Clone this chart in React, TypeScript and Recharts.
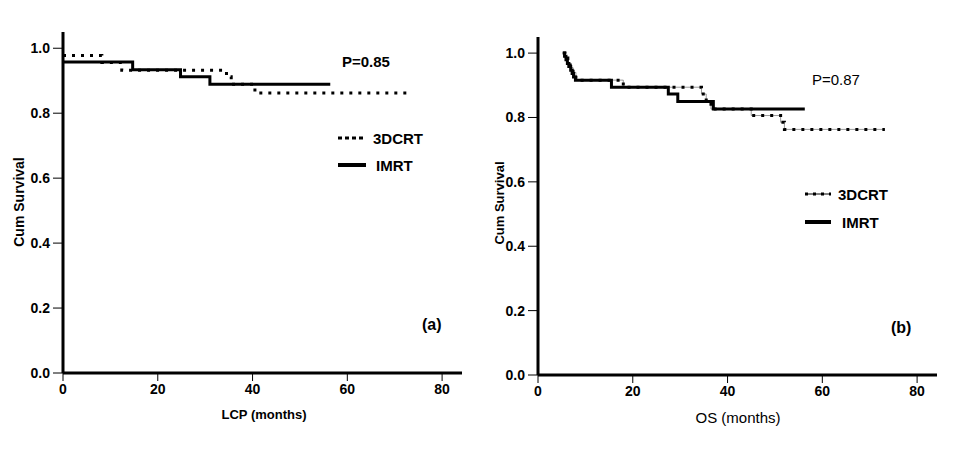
import { LineChart, Line, XAxis, YAxis } from 'recharts';

// (a) local control (LCP), Kaplan-Meier steps
const lcp3dcrt = [
  { t: 0, s: 0.978 },
  { t: 8.2, s: 0.956 },
  { t: 12.4, s: 0.932 },
  { t: 34.5, s: 0.912 },
  { t: 35.5, s: 0.889 },
  { t: 40.5, s: 0.862 },
  { t: 73.6, s: 0.862 },
];
const lcpImrt = [
  { t: 0, s: 0.958 },
  { t: 14.7, s: 0.934 },
  { t: 24.8, s: 0.912 },
  { t: 31, s: 0.889 },
  { t: 56.4, s: 0.889 },
];

// (b) overall survival (OS)
const os3dcrt = [
  { t: 5.2, s: 1.0 },
  { t: 5.7, s: 0.985 },
  { t: 6.3, s: 0.97 },
  { t: 6.8, s: 0.955 },
  { t: 7.4, s: 0.94 },
  { t: 8, s: 0.916 },
  { t: 18, s: 0.894 },
  { t: 34.5, s: 0.873 },
  { t: 35.5, s: 0.85 },
  { t: 36.5, s: 0.826 },
  { t: 45, s: 0.806 },
  { t: 51.2, s: 0.785 },
  { t: 52, s: 0.763 },
  { t: 73.2, s: 0.763 },
];
const osImrt = [
  { t: 5.3, s: 1.0 },
  { t: 5.6, s: 0.99 },
  { t: 5.9, s: 0.979 },
  { t: 6.2, s: 0.968 },
  { t: 6.5, s: 0.958 },
  { t: 6.9, s: 0.947 },
  { t: 7.2, s: 0.937 },
  { t: 7.5, s: 0.926 },
  { t: 7.9, s: 0.916 },
  { t: 15.5, s: 0.894 },
  { t: 27.5, s: 0.873 },
  { t: 29.5, s: 0.85 },
  { t: 37, s: 0.826 },
  { t: 56.3, s: 0.826 },
];

const xTicks = [0, 20, 40, 60, 80];
const yTicks = [0, 0.2, 0.4, 0.6, 0.8, 1.0];

const FONT = '"Liberation Sans", Arial, sans-serif';
const tickStyle = { fontSize: 14, fontWeight: 'bold', fill: '#000', fontFamily: FONT };

const txt = (x: number, y: number, s: string, size: number, bold = true, extra: any = {}) => (
  <div
    style={{
      position: 'absolute',
      left: x,
      top: y,
      fontFamily: FONT,
      fontSize: size,
      fontWeight: bold ? 'bold' : 'normal',
      color: '#000',
      whiteSpace: 'nowrap',
      lineHeight: 1,
      ...extra,
    }}
  >
    {s}
  </div>
);

const axes = (yWidth: number) => [
  <XAxis
    key="x"
    type="number"
    dataKey="t"
    domain={[0, 84.2]}
    ticks={xTicks}
    allowDataOverflow
    height={30}
    tick={tickStyle}
    tickSize={8}
    tickMargin={3}
    axisLine={{ stroke: '#000', strokeWidth: 3 }}
    tickLine={{ stroke: '#000', strokeWidth: 1 }}
  />,
  <YAxis
    key="y"
    type="number"
    dataKey="s"
    domain={[0, 1.05]}
    ticks={yTicks}
    allowDataOverflow
    width={yWidth}
    tick={tickStyle}
    tickSize={10}
    tickMargin={3}
    tickFormatter={(v: number) => v.toFixed(1)}
    axisLine={{ stroke: '#000', strokeWidth: 3 }}
    tickLine={{ stroke: '#000', strokeWidth: 1 }}
  />,
];

export default function App() {
  return (
    <div style={{ position: 'absolute', left: 0, top: 0, width: 958, height: 457, background: '#fff' }}>
      <LineChart
        width={480}
        height={457}
        margin={{ top: 32, right: 18, bottom: 54, left: 0 }}
        style={{ position: 'absolute', left: 0, top: 0 }}
      >
        {axes(63)}
        <Line
          data={lcp3dcrt}
          dataKey="s"
          type="stepAfter"
          stroke="#000"
          strokeWidth={3}
          strokeDasharray="3 6"
          dot={false}
          isAnimationActive={false}
        />
        <Line
          data={lcpImrt}
          dataKey="s"
          type="stepAfter"
          stroke="#000"
          strokeWidth={3}
          dot={false}
          isAnimationActive={false}
        />
      </LineChart>

      <LineChart
        width={478}
        height={457}
        margin={{ top: 37, right: 21, bottom: 52, left: 0 }}
        style={{ position: 'absolute', left: 480, top: 0 }}
      >
        {axes(58)}
        <Line
          data={os3dcrt}
          dataKey="s"
          type="stepAfter"
          stroke="#000"
          strokeWidth={1}
          strokeOpacity={0.4}
          dot={false}
          isAnimationActive={false}
        />
        <Line
          data={os3dcrt}
          dataKey="s"
          type="stepAfter"
          stroke="#000"
          strokeWidth={3}
          strokeDasharray="3 6"
          dot={false}
          isAnimationActive={false}
        />
        <Line
          data={osImrt}
          dataKey="s"
          type="stepAfter"
          stroke="#000"
          strokeWidth={3}
          dot={false}
          isAnimationActive={false}
        />
      </LineChart>

      {/* panel (a) texts */}
      {txt(342, 54, 'P=0.85', 15)}
      <svg style={{ position: 'absolute', left: 336, top: 130 }} width={32} height={40}>
        <line x1={2} y1={8} x2={30} y2={8} stroke="#000" strokeWidth={3} strokeDasharray="4 3" />
        <line x1={2} y1={35} x2={30} y2={35} stroke="#000" strokeWidth={4} />
      </svg>
      {txt(373, 131, '3DCRT', 15)}
      {txt(376, 158, 'IMRT', 15)}
      {txt(422, 317, '(a)', 16)}
      {txt(264, 408, 'LCP (months)', 13, true, { transform: 'translateX(-50%)' })}
      {txt(19, 202, 'Cum Survival', 14, true, { transform: 'translate(-50%, -50%) rotate(-90deg)' })}

      {/* panel (b) texts */}
      {txt(812, 72, 'P=0.87', 15, false)}
      <svg style={{ position: 'absolute', left: 803, top: 186 }} width={32} height={40}>
        <line x1={2} y1={8} x2={28} y2={8} stroke="#000" strokeWidth={1} />
        <line x1={2} y1={8} x2={28} y2={8} stroke="#000" strokeWidth={3} strokeDasharray="3 5" />
        <line x1={2} y1={36} x2={28} y2={36} stroke="#000" strokeWidth={4} />
      </svg>
      {txt(838, 187, '3DCRT', 15)}
      {txt(842, 215, 'IMRT', 15)}
      {txt(891, 320, '(b)', 16)}
      {txt(738, 410, 'OS (months)', 15, false, { transform: 'translateX(-50%)' })}
      {txt(499, 203, 'Cum Survival', 13, true, { transform: 'translate(-50%, -50%) rotate(-90deg)' })}
    </div>
  );
}
